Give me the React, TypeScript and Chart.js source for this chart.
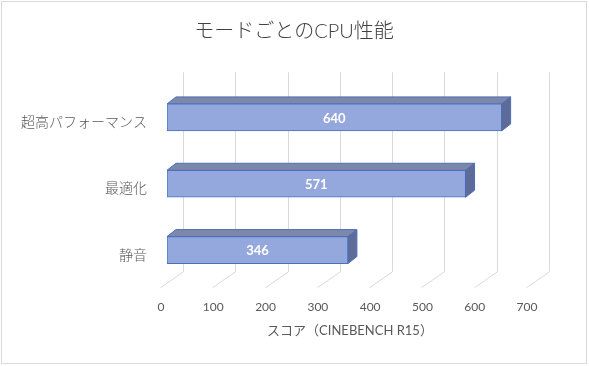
import React, { useEffect, useRef } from "react";
import { Chart, registerables } from "chart.js";

Chart.register(...registerables);

const categories = ["超高パフォーマンス", "最適化", "静音"];
const scores = [640, 571, 346];
const xTicks = [0, 100, 200, 300, 400, 500, 600, 700];
const titleText = "モードごとのCPU性能";
const axisTitle = "スコア（CINEBENCH R15）";

const FONT = "Lato, 'Noto Sans CJK JP', sans-serif";
const DEPTH_X = 9;
const DEPTH_Y = -7;

const threeD = {
  id: "threeD",
  beforeDatasetsDraw(chart: any) {
    const ctx = chart.ctx;
    const xs = chart.scales.x;
    const area = chart.chartArea;
    ctx.save();
    ctx.strokeStyle = "#d9d9d9";
    ctx.lineWidth = 1;
    const backTop = area.top - 12;
    const backBottom = area.bottom - 11.5;
    for (const v of xTicks) {
      const x = Math.round(xs.getPixelForValue(v) + 16) + 0.5;
      ctx.beginPath();
      ctx.moveTo(x, backTop);
      ctx.lineTo(x, backBottom);
      ctx.lineTo(x - 23, backBottom + 16);
      ctx.stroke();
    }
    const meta = chart.getDatasetMeta(0);
    meta.data.forEach((bar: any) => {
      const p = bar.getProps(["x", "y", "base", "height"], true);
      const left = p.base;
      const right = p.x;
      const top = p.y - p.height / 2;
      const bottom = p.y + p.height / 2;
      ctx.lineWidth = 1;
      ctx.strokeStyle = "#4f6fb8";
      ctx.fillStyle = "#7c88aa";
      ctx.beginPath();
      ctx.moveTo(left, top);
      ctx.lineTo(left + DEPTH_X, top + DEPTH_Y);
      ctx.lineTo(right + DEPTH_X, top + DEPTH_Y);
      ctx.lineTo(right, top);
      ctx.closePath();
      ctx.fill();
      ctx.stroke();
      ctx.fillStyle = "#5e6b98";
      ctx.beginPath();
      ctx.moveTo(right, top);
      ctx.lineTo(right + DEPTH_X, top + DEPTH_Y);
      ctx.lineTo(right + DEPTH_X, bottom + DEPTH_Y);
      ctx.lineTo(right, bottom);
      ctx.closePath();
      ctx.fill();
      ctx.stroke();
    });
    ctx.restore();
  },
  afterDatasetsDraw(chart: any) {
    const ctx = chart.ctx;
    const meta = chart.getDatasetMeta(0);
    ctx.save();
    ctx.fillStyle = "#ffffff";
    ctx.font = "bold 13px " + FONT;
    ctx.textAlign = "center";
    ctx.textBaseline = "middle";
    meta.data.forEach((bar: any, i: number) => {
      const p = bar.getProps(["x", "y", "base"], true);
      ctx.fillText(String(scores[i]), (p.x + p.base) / 2, p.y + 1);
    });
    ctx.restore();
  },
  afterDraw(chart: any) {
    const ctx = chart.ctx;
    ctx.save();
    ctx.strokeStyle = "#d9d9d9";
    ctx.lineWidth = 1;
    ctx.strokeRect(1.5, 1.5, chart.width - 4, chart.height - 4);
    ctx.fillStyle = "#404040";
    ctx.font = "300 20px " + FONT;
    ctx.textAlign = "center";
    ctx.textBaseline = "middle";
    ctx.fillText(titleText, 294, 32);
    ctx.restore();
  },
};

export default function App() {
  const ref = useRef<HTMLCanvasElement>(null);
  useEffect(() => {
    document.body.style.margin = "0";
    const canvas = ref.current!;
    const chart = new Chart(canvas, {
      type: "bar",
      data: {
        labels: categories,
        datasets: [
          {
            data: scores,
            backgroundColor: (c: any) => {
              const el = c.element;
              const ctx = c.chart.ctx;
              if (!el || el.y == null) return "#94a8dd";
              const h = el.height || 27;
              const g = ctx.createLinearGradient(0, el.y - h / 2, 0, el.y + h / 2);
              g.addColorStop(0, "#a7b7e5");
              g.addColorStop(1, "#8a9fd9");
              return g;
            },
            borderColor: "#4a70c0",
            borderWidth: 1,
            borderSkipped: false,
            barThickness: 27,
          },
        ],
      },
      options: {
        indexAxis: "y",
        animation: false,
        responsive: false,
        devicePixelRatio: 1,
        layout: { padding: { left: 0, right: 56, top: 84.25, bottom: 23.75 } },
        plugins: {
          legend: { display: false },
          tooltip: { enabled: false },
          title: { display: false },
        },
        scales: {
          x: {
            min: 0,
            max: 700,
            grid: { display: false, drawTicks: false },
            border: { display: false },
            ticks: {
              stepSize: 100,
              color: "#595959",
              font: { family: FONT, size: 12 },
              padding: 17,
              labelOffset: -6,
              maxRotation: 0,
            },
            title: {
              display: true,
              text: axisTitle,
              color: "#595959",
              font: { family: FONT, size: 13 },
              padding: { top: 8, bottom: 4 },
            },
            afterFit: (s: any) => {
              s.height = 59;
            },
          },
          y: {
            grid: { display: false, drawTicks: false },
            border: { display: false },
            ticks: {
              color: "#595959",
              font: { family: FONT, size: 14, weight: "300" },
              padding: 20,
              labelOffset: 5,
            },
            afterFit: (s: any) => {
              s.width = 167;
            },
          },
        },
      },
      plugins: [threeD],
    } as any);
    return () => chart.destroy();
  }, []);
  return (
    <div style={{ position: "absolute", left: 0, top: 0, width: 589, height: 366 }}>
      <canvas ref={ref} width={589} height={366} style={{ display: "block" }} />
    </div>
  );
}
